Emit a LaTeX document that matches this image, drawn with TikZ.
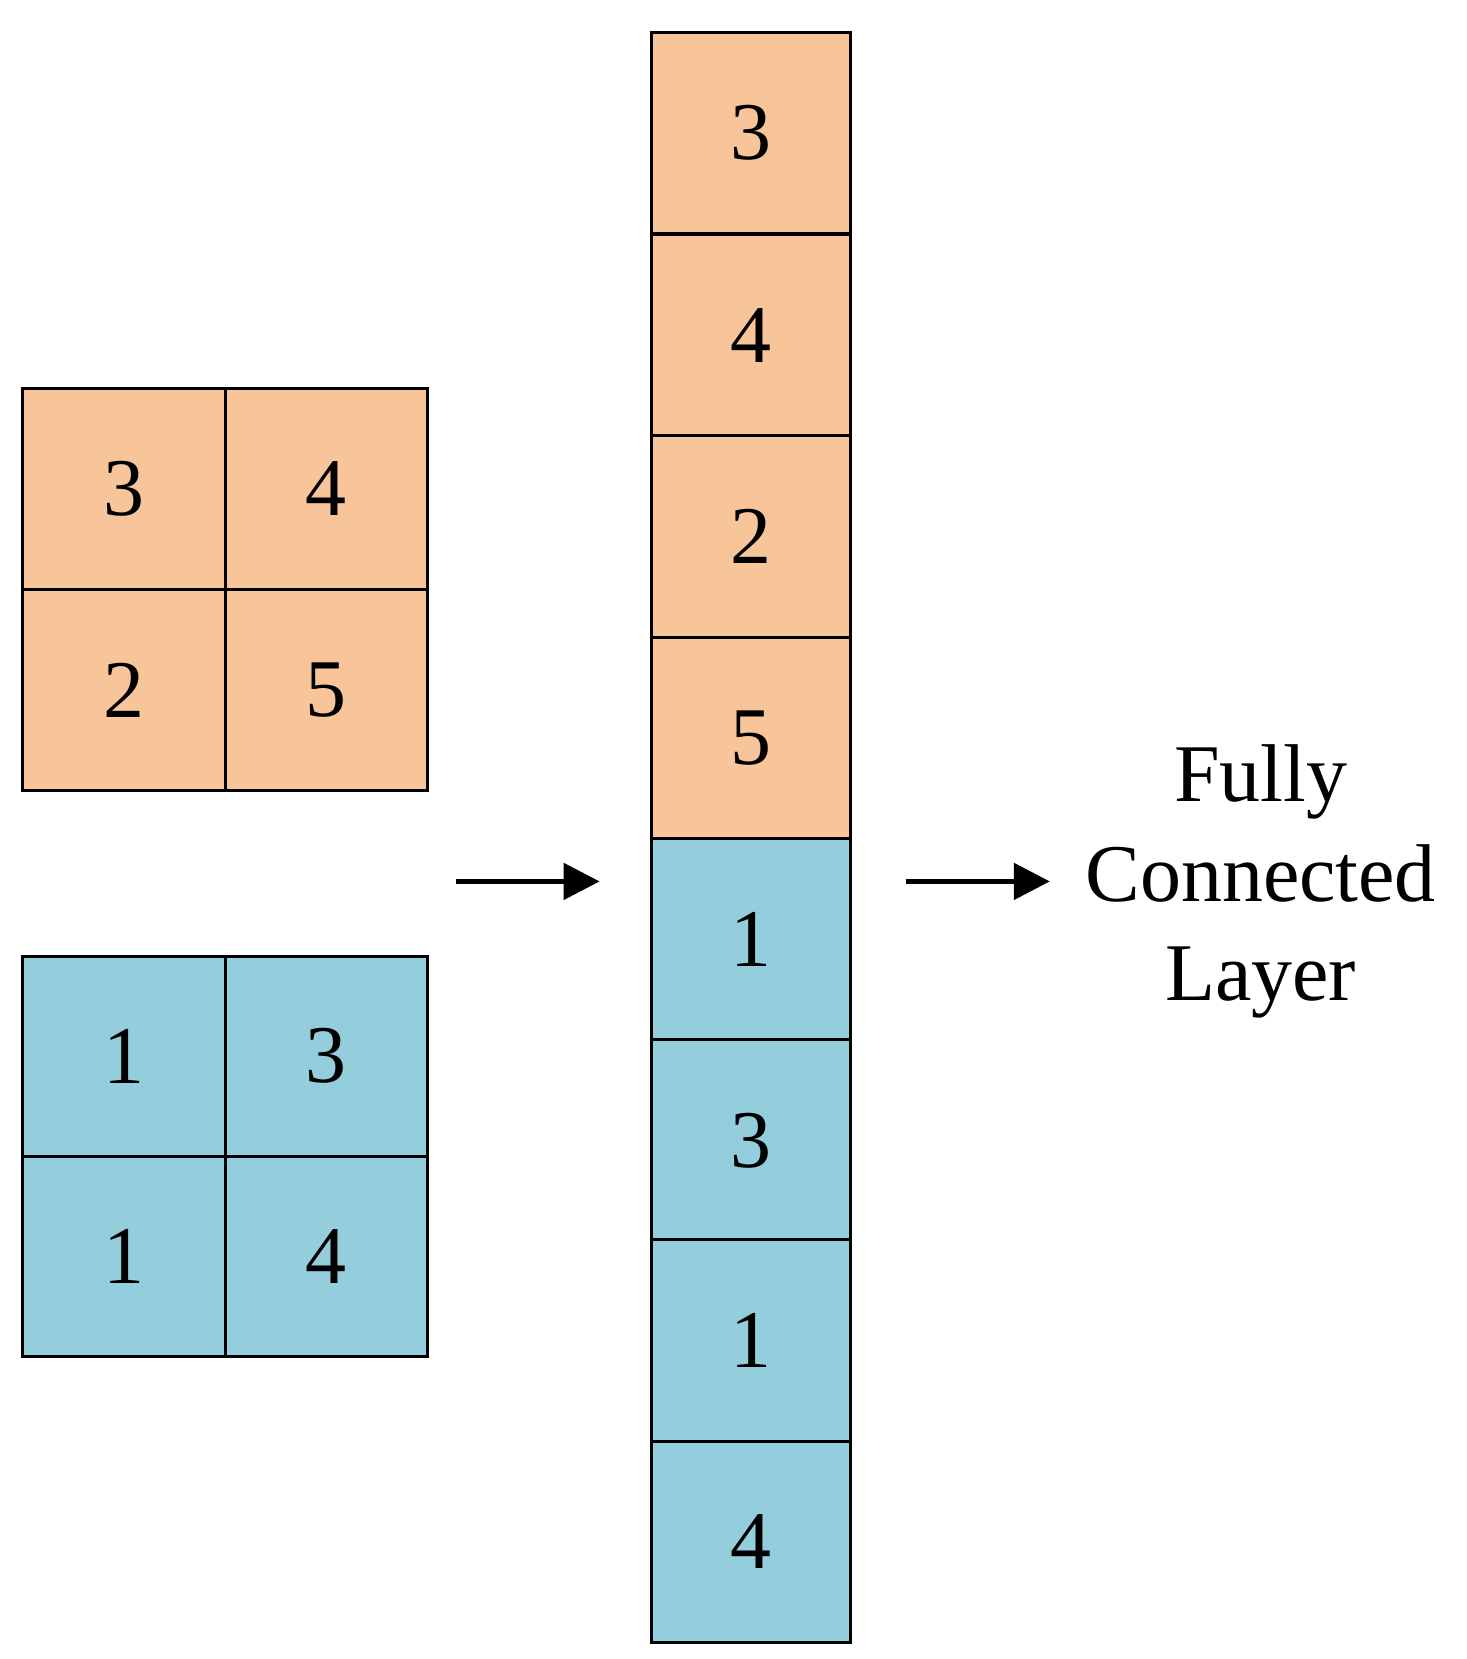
\documentclass[tikz,border=0pt]{standalone}
\usepackage{fontspec}
\setmainfont{Liberation Serif}
\usetikzlibrary{arrows.meta}
\definecolor{org}{HTML}{F8C49A}
\definecolor{blu}{HTML}{94CDDB}
\begin{document}
\begin{tikzpicture}[x=0.53pt,y=-0.53pt,
  cell/.style={draw=black,line width=1.5pt,minimum width=190*0.53pt,minimum height=190*0.53pt,inner sep=0pt,font=\fontsize{41}{41}\selectfont,anchor=north west},
  arr/.style={-{Triangle[length=18pt,width=18pt]},line width=2.5pt}]
\useasboundingbox (0,0) rectangle (1384,1566);
% left grids
\node[cell,fill=org,minimum width=191*0.53pt] (a1) at (20,365) {3};
\node[cell,fill=org,minimum width=191*0.53pt] (a2) at (211,365) {4};
\node[cell,fill=org,minimum width=191*0.53pt] (a3) at (20,555) {2};
\node[cell,fill=org,minimum width=191*0.53pt] (a4) at (211,555) {5};
\node[cell,fill=blu,minimum width=191*0.53pt,minimum height=189*0.53pt] (b1) at (20,901) {1};
\node[cell,fill=blu,minimum width=191*0.53pt,minimum height=189*0.53pt] (b2) at (211,901) {3};
\node[cell,fill=blu,minimum width=191*0.53pt,minimum height=189*0.53pt] (b3) at (20,1090) {1};
\node[cell,fill=blu,minimum width=191*0.53pt,minimum height=189*0.53pt] (b4) at (211,1090) {4};
% column
\node[cell,fill=org,minimum width=187*0.53pt] (c1) at (614,29) {3};
\node[cell,fill=org,minimum width=187*0.53pt] (c2) at (614,220) {4};
\node[cell,fill=org,minimum width=187*0.53pt] (c3) at (614,410) {2};
\node[cell,fill=org,minimum width=187*0.53pt] (c4) at (614,600) {5};
\node[cell,fill=blu,minimum width=187*0.53pt] (c5) at (614,790) {1};
\node[cell,fill=blu,minimum width=187*0.53pt] (c6) at (614,980) {3};
\node[cell,fill=blu,minimum width=187*0.53pt] (c7) at (614,1169) {1};
\node[cell,fill=blu,minimum width=187*0.53pt] (c8) at (614,1359) {4};
\node[align=center,font=\fontsize{41}{50}\selectfont] (fc) at (1190,832) {Fully\\Connected\\Layer};
\coordinate (s1) at (430,832);
\coordinate (e1) at (566,832);
\coordinate (s2) at (855,832);
\coordinate (e2) at (991,832);
\draw[arr] (s1) -- (e1);
\draw[arr] (s2) -- (e2);
\end{tikzpicture}
\end{document}
